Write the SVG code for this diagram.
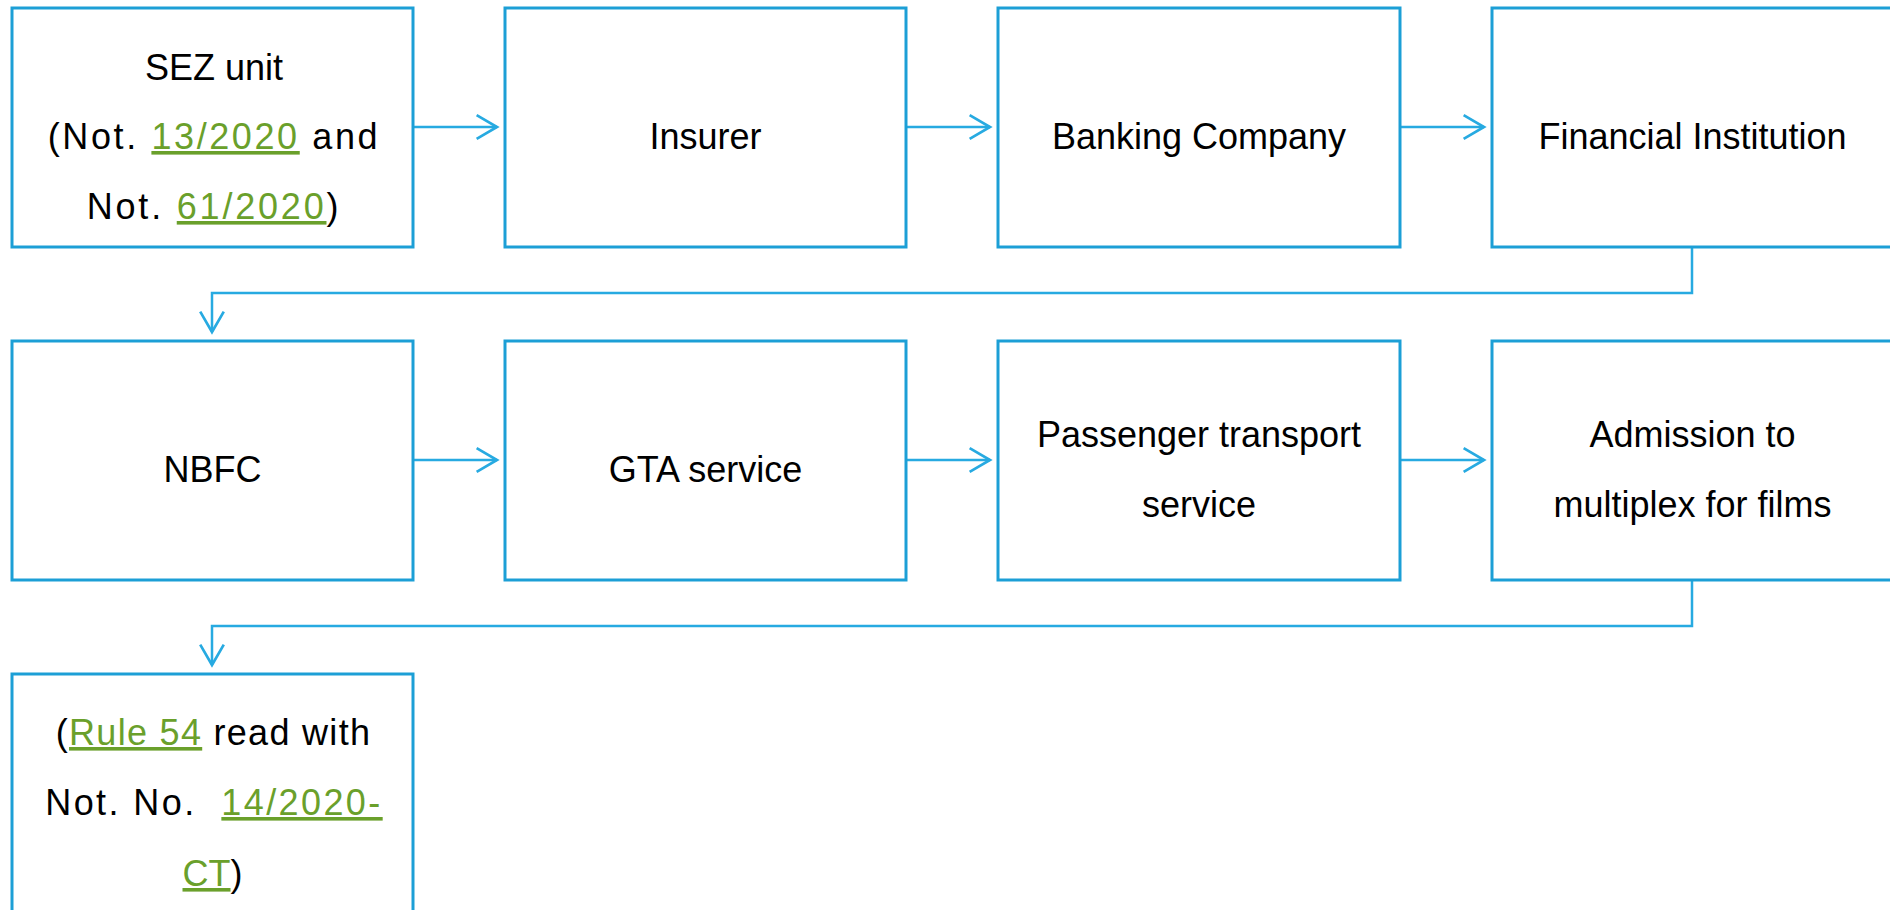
<svg xmlns="http://www.w3.org/2000/svg" width="1890" height="910" viewBox="0 0 1890 910">
  <style>
    .box { fill: #ffffff; stroke: #1C9FD6; stroke-width: 3; }
    .lbl { font-family: "Liberation Sans", Arial, sans-serif; font-size: 36px; fill: #000000; text-anchor: middle; }
    .lnk { fill: #6AA02B; text-decoration: underline; }
    .wire { fill: none; stroke: #27AAE1; stroke-width: 2.5; marker-end: url(#chev); }
  </style>
  <defs>
    <marker id="chev" markerUnits="userSpaceOnUse" markerWidth="30" markerHeight="30" viewBox="-22 -14 26 28" refX="0" refY="0" orient="auto">
      <path d="M-19,-11 L0,0 L-19,11" fill="none" stroke="#27AAE1" stroke-width="2.5"/>
    </marker>
  </defs>

  <rect width="1890" height="910" fill="#ffffff"/>

  <!-- connectors -->
  <g id="connectors">
    <line class="wire" x1="413" y1="127" x2="497" y2="127"/>
    <line class="wire" x1="906" y1="127" x2="990" y2="127"/>
    <line class="wire" x1="1400" y1="127" x2="1484" y2="127"/>
    <polyline class="wire" points="1692,247 1692,293 212,293 212,332"/>
    <line class="wire" x1="413" y1="460" x2="497" y2="460"/>
    <line class="wire" x1="906" y1="460" x2="990" y2="460"/>
    <line class="wire" x1="1400" y1="460" x2="1484" y2="460"/>
    <polyline class="wire" points="1692,580 1692,626 212,626 212,665"/>
  </g>

  <!-- row 1 -->
  <g id="sez-unit">
    <rect class="box" x="12" y="8" width="401" height="239"/>
    <text class="lbl" x="214" y="80">SEZ unit</text>
    <text class="lbl" x="214" y="149" letter-spacing="2.6">(Not. <tspan class="lnk">13/2020</tspan> and</text>
    <text class="lbl" x="214" y="219" letter-spacing="2.8">Not. <tspan class="lnk">61/2020</tspan>)</text>
  </g>
  <g id="insurer">
    <rect class="box" x="505" y="8" width="401" height="239"/>
    <text class="lbl" x="705.5" y="149">Insurer</text>
  </g>
  <g id="banking-company">
    <rect class="box" x="998" y="8" width="402" height="239"/>
    <text class="lbl" x="1199" y="149">Banking Company</text>
  </g>
  <g id="financial-institution">
    <rect class="box" x="1492" y="8" width="401" height="239"/>
    <text class="lbl" x="1692.5" y="149">Financial Institution</text>
  </g>

  <!-- row 2 -->
  <g id="nbfc">
    <rect class="box" x="12" y="341" width="401" height="239"/>
    <text class="lbl" x="212.5" y="482">NBFC</text>
  </g>
  <g id="gta-service">
    <rect class="box" x="505" y="341" width="401" height="239"/>
    <text class="lbl" x="705.5" y="482">GTA service</text>
  </g>
  <g id="passenger-transport">
    <rect class="box" x="998" y="341" width="402" height="239"/>
    <text class="lbl" x="1199" y="447">Passenger transport</text>
    <text class="lbl" x="1199" y="517">service</text>
  </g>
  <g id="multiplex-admission">
    <rect class="box" x="1492" y="341" width="401" height="239"/>
    <text class="lbl" x="1692.5" y="447">Admission to</text>
    <text class="lbl" x="1692.5" y="517">multiplex for films</text>
  </g>

  <!-- row 3 -->
  <g id="rule-54">
    <rect class="box" x="12" y="674" width="401" height="260"/>
    <text class="lbl" x="213.5" y="745" letter-spacing="1.3">(<tspan class="lnk">Rule 54</tspan> read with</text>
    <text class="lbl" x="214" y="815" xml:space="preserve" letter-spacing="2.4">Not. No.  <tspan class="lnk">14/2020-</tspan></text>
    <text class="lbl" x="212.5" y="886"><tspan class="lnk">CT</tspan>)</text>
  </g>
</svg>
